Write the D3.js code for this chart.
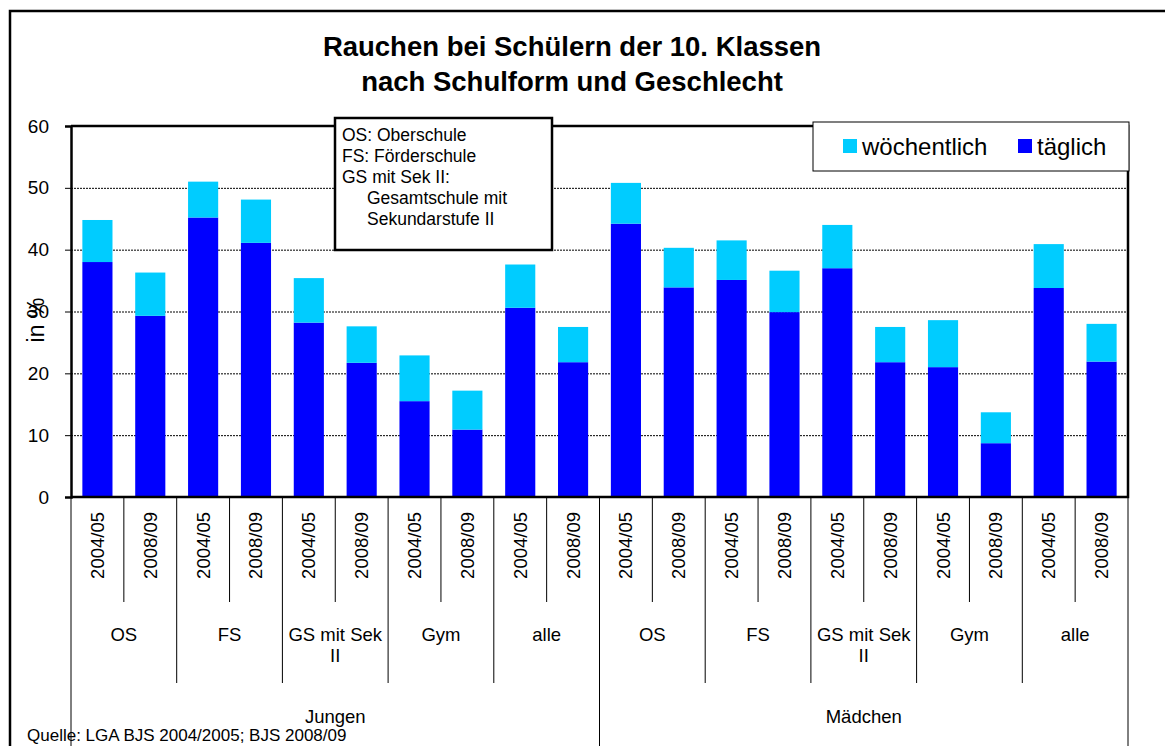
<!DOCTYPE html>
<html>
<head>
<meta charset="utf-8">
<script src="https://cdn.jsdelivr.net/npm/d3@7"></script>
<style>
  body { margin: 0; background: #fff; }
  text { font-family: Arial, "Liberation Sans", sans-serif; fill: #000; }
</style>
</head>
<body>
<div id="chart"></div>
<script>
// Data
const genders = ['Jungen', 'Mädchen'];
const schools = ['OS', 'FS', 'GS mit Sek II', 'Gym', 'alle'];
const years = ['2004/05', '2008/09'];
const seriesNames = ['täglich', 'wöchentlich'];
const daily  = [38.0, 29.3, 45.2, 41.1, 28.2, 21.7, 15.5, 10.9, 30.6, 21.8,
                44.2, 33.9, 35.1, 29.9, 37.0, 21.8, 21.0, 8.7, 33.8, 21.9];
const weekly = [6.8, 7.0, 5.8, 7.0, 7.2, 5.9, 7.4, 6.3, 7.0, 5.7,
                6.6, 6.4, 6.4, 6.7, 7.0, 5.7, 7.6, 5.0, 7.1, 6.1];
const yTicks = [0, 10, 20, 30, 40, 50, 60];
const notes = ['OS: Oberschule', 'FS: Förderschule', 'GS mit Sek II:', 'Gesamtschule mit', 'Sekundarstufe II'];

const colors = { 'täglich': '#0000ff', 'wöchentlich': '#00ccff' };

// Build rows
const rows = [];
genders.forEach(g => schools.forEach(s => years.forEach(y => {
    const i = rows.length;
    rows.push({ key: g + '|' + s + '|' + y, gender: g, school: s, year: y,
                'täglich': daily[i], 'wöchentlich': weekly[i] });
})));

const W = 1165, H = 746;
const margin = { top: 126, right: 37, bottom: 249, left: 71 };
const width = W - margin.left - margin.right;
const height = H - margin.top - margin.bottom;

const svg = d3.select('#chart').append('svg')
    .attr('width', W).attr('height', H);

// outer frame
svg.append('rect')
    .attr('x', 10).attr('y', 11).attr('width', W + 20).attr('height', H + 20)
    .attr('fill', 'none').attr('stroke', '#000').attr('stroke-width', 2.5);

// title
svg.append('text').attr('x', 572).attr('y', 56).attr('text-anchor', 'middle')
    .style('font-size', '27.5px').style('font-weight', 'bold')
    .text('Rauchen bei Schülern der 10. Klassen');
svg.append('text').attr('x', 572).attr('y', 91).attr('text-anchor', 'middle')
    .style('font-size', '27.5px').style('font-weight', 'bold')
    .text('nach Schulform und Geschlecht');

const g = svg.append('g').attr('transform', `translate(${margin.left},${margin.top})`);

const x = d3.scaleBand()
    .domain(rows.map(d => d.key))
    .range([0, width])
    .paddingInner(0.43)
    .paddingOuter(0.215);

const y = d3.scaleLinear().domain([0, 60]).range([height, 0]);

// gridlines
g.append('g')
    .call(d3.axisLeft(y).tickValues(yTicks.filter(t => t > 0 && t < 60)).tickSize(-width).tickFormat(''))
    .call(a => a.select('.domain').remove())
    .selectAll('line')
    .attr('stroke', '#000').attr('stroke-width', 1).attr('stroke-dasharray', '2,1');

// stacked bars
const stack = d3.stack().keys(seriesNames);
const layers = stack(rows);

g.selectAll('.layer')
    .data(layers)
    .enter().append('g')
    .attr('class', 'layer')
    .attr('fill', d => colors[d.key])
    .selectAll('rect')
    .data(d => d)
    .enter().append('rect')
    .attr('x', d => x(d.data.key))
    .attr('width', x.bandwidth())
    .attr('y', d => y(d[1]))
    .attr('height', d => y(d[0]) - y(d[1]));

// y axis
const yAxis = g.append('g')
    .call(d3.axisLeft(y).tickValues(yTicks).tickSize(6).tickPadding(16));
yAxis.select('.domain').attr('stroke-width', 2.5);
yAxis.selectAll('line').attr('stroke-width', 1);
yAxis.selectAll('text').style('font-size', '19px').style('font-family', 'Arial, "Liberation Sans", sans-serif');

// plot frame: top, right, bottom
g.append('path')
    .attr('d', `M0,0H${width}V${height}H0`)
    .attr('fill', 'none').attr('stroke', '#000').attr('stroke-width', 2.5);

// y axis title
svg.append('text')
    .attr('transform', 'translate(44,320) rotate(-90)')
    .attr('text-anchor', 'middle')
    .style('font-size', '23px')
    .text('in %');

// x axis - year labels
const xAxis = g.append('g')
    .attr('transform', `translate(0,${height})`)
    .call(d3.axisBottom(x).tickSize(0).tickFormat(k => k.split('|')[2]));
xAxis.select('.domain').remove();
xAxis.selectAll('text')
    .style('font-size', '18.5px')
    .style('font-family', 'Arial, "Liberation Sans", sans-serif')
    .attr('text-anchor', 'end')
    .attr('transform', 'translate(0,15) rotate(-90)')
    .attr('x', 0).attr('y', 0).attr('dy', '0.35em');

// category separators
const step = x.step();
const seps = d3.range(rows.length + 1);
g.append('g').selectAll('line')
    .data(seps)
    .enter().append('line')
    .attr('x1', k => k * step).attr('x2', k => k * step)
    .attr('y1', height)
    .attr('y2', k => k % 10 === 0 ? H - margin.top : (k % 2 === 0 ? 683 - margin.top : 602 - margin.top))
    .attr('stroke', '#000').attr('stroke-width', 1);

// school labels
const groups = [];
genders.forEach((gen, gi) => schools.forEach((s, si) => {
    groups.push({ label: s, start: (gi * 10 + si * 2) * step });
}));

function wrapLines(label, maxW, size) {
    const words = label.split(' ');
    const tmp = svg.append('text').style('font-size', size + 'px');
    const lines = [];
    let line = [];
    words.forEach(w => {
        line.push(w);
        tmp.text(line.join(' '));
        if (tmp.node().getComputedTextLength() > maxW && line.length > 1) {
            line.pop();
            lines.push(line.join(' '));
            line = [w];
        }
    });
    lines.push(line.join(' '));
    tmp.remove();
    return lines;
}

groups.forEach(gr => {
    const lines = wrapLines(gr.label, step * 2 - 6, 18.5);
    const t = g.append('text')
        .attr('x', gr.start + step)
        .attr('y', 641 - margin.top)
        .attr('text-anchor', 'middle')
        .style('font-size', '18.5px');
    lines.forEach((l, i) => {
        t.append('tspan').attr('x', gr.start + step).attr('dy', i === 0 ? 0 : 21).text(l);
    });
});

// gender labels
genders.forEach((gen, gi) => {
    g.append('text')
        .attr('x', (gi * 10 + 5) * step)
        .attr('y', 723 - margin.top)
        .attr('text-anchor', 'middle')
        .style('font-size', '18.5px')
        .text(gen);
});

// source note
svg.append('text').attr('x', 27).attr('y', 741)
    .style('font-size', '17px')
    .text('Quelle: LGA BJS 2004/2005; BJS 2008/09');

// note box
svg.append('rect')
    .attr('x', 335).attr('y', 118).attr('width', 217).attr('height', 132)
    .attr('fill', '#fff').attr('stroke', '#000').attr('stroke-width', 2.5);
notes.forEach((n, i) => {
    svg.append('text')
        .attr('x', i < 3 ? 342 : 367)
        .attr('y', 141 + i * 21)
        .style('font-size', '17.5px')
        .text(n);
});

// legend
const legend = svg.append('g');
legend.append('rect')
    .attr('x', 813).attr('y', 122).attr('width', 316).attr('height', 49)
    .attr('fill', '#fff').attr('stroke', '#000').attr('stroke-width', 1);
const legendItems = [
    { name: 'wöchentlich', x: 843 },
    { name: 'täglich', x: 1018 }
];
legendItems.forEach(it => {
    legend.append('rect')
        .attr('x', it.x).attr('y', 139).attr('width', 14).attr('height', 14)
        .attr('fill', colors[it.name]);
    legend.append('text')
        .attr('x', it.x + 19).attr('y', 155)
        .style('font-size', '24px')
        .text(it.name);
});
</script>
</body>
</html>
